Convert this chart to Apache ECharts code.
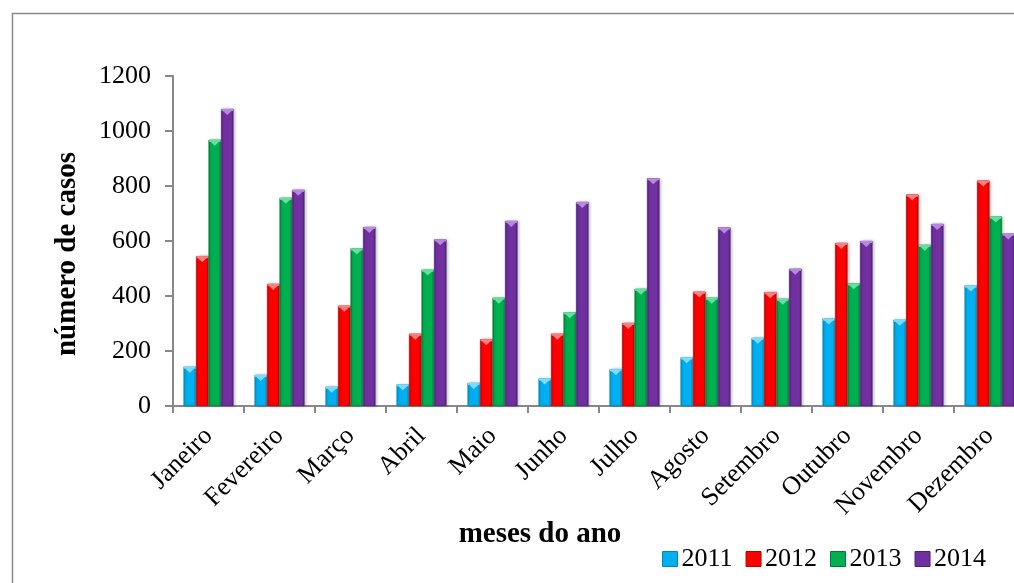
<!DOCTYPE html>
<html>
<head>
<meta charset="utf-8">
<script src="https://cdn.jsdelivr.net/npm/echarts@6/dist/echarts.min.js"></script>
<style>
html,body{margin:0;padding:0;background:#fff;}
#chart{width:1014px;height:583px;}
</style>
</head>
<body>
<div id="chart"></div>
<script>
const months = ['Janeiro','Fevereiro','Março','Abril','Maio','Junho','Julho','Agosto','Setembro','Outubro','Novembro','Dezembro'];
const yTicks = [0, 200, 400, 600, 800, 1000, 1200];
const years = ['2011','2012','2013','2014'];
const v2011 = [143, 113, 70, 79, 84, 100, 134, 177, 248, 318, 314, 438];
const v2012 = [545, 444, 365, 263, 243, 263, 302, 416, 414, 593, 769, 820];
const v2013 = [968, 757, 573, 496, 394, 341, 426, 394, 390, 446, 586, 689];
const v2014 = [1080, 786, 651, 606, 673, 742, 828, 649, 499, 600, 662, 627];
const colors = ['#00B0F0','#FF0000','#00B050','#7030A0'];
const darks = ['#0086B8','#B80000','#007A38','#4E1F73'];
const lights = ['#7FDCFF','#FF8080','#66E0A0','#B888E0'];

const font = '"Liberation Serif", "Times New Roman", serif';
const seriesData = [v2011, v2012, v2013, v2014];
const BAR_W = 12.5;

function grad(i){
  return new echarts.graphic.LinearGradient(0,0,1,0,[
    {offset:0,color:darks[i]},
    {offset:0.18,color:colors[i]},
    {offset:0.82,color:colors[i]},
    {offset:1,color:darks[i]}
  ]);
}

const chart = echarts.init(document.getElementById('chart'), null, {renderer:'canvas'});
const barSeries = years.map((y,i)=>({
  name:y,
  type:'bar',
  data:seriesData[i],
  barWidth:BAR_W,
  barGap:'0%',
  itemStyle:{color:grad(i), borderColor:darks[i], borderWidth:0.6,
    shadowColor:'rgba(0,0,0,0.25)', shadowBlur:3, shadowOffsetX:1.5, shadowOffsetY:0},
  emphasis:{disabled:true}
}));
// bevel caps on top of each bar (decoration), positioned via the axis scale
const capSeries = years.map((y,i)=>({
  name:y,
  type:'custom',
  silent:true,
  z:3,
  data:seriesData[i].map((v,k)=>[k,v]),
  renderItem:function(params, api){
    const p = api.coord([api.value(0), api.value(1)]);
    const groupW = BAR_W*4;
    const left = p[0] - groupW/2 + BAR_W*i;
    const right = left + BAR_W;
    const top = p[1];
    return {
      type:'group',
      children:[
        {type:'rect', shape:{x:left+0.5, y:top, width:BAR_W-1, height:2}, style:{fill:lights[i]}},
        {type:'polygon', shape:{points:[[left+1.5, top+1.5],[right-1.5, top+1.5],[(left+right)/2, top+6]]}, style:{fill:lights[i]}}
      ]
    };
  }
}));

chart.setOption({
  animation:false,
  backgroundColor:'#fff',
  grid:{left:173, top:76, width:852, bottom:177, containLabel:false, outerBoundsMode:'none'},
  legend:{
    data:years.map((y,i)=>({name:y, itemStyle:{color:colors[i], borderColor:darks[i], borderWidth:1}})),
    left:657, top:541, itemWidth:15, itemHeight:15, itemGap:13,
    icon:'rect',
    textStyle:{fontFamily:font, fontSize:26, color:'#000', padding:[0,0,0,-1]}
  },
  xAxis:{
    type:'category', data:months,
    axisLine:{lineStyle:{color:'#888', width:2}},
    axisTick:{show:true, length:7, lineStyle:{color:'#888', width:2}},
    axisLabel:{rotate:45, margin:26, fontFamily:font, fontSize:26, color:'#000', interval:0}
  },
  yAxis:{
    type:'value', min:0, max:1200, interval:200,
    splitLine:{show:false},
    axisLine:{show:true, lineStyle:{color:'#888', width:2}},
    axisTick:{show:true, length:8, lineStyle:{color:'#888', width:2}},
    axisLabel:{margin:22, fontFamily:font, fontSize:26, color:'#000',
      formatter:function(v){ return yTicks.indexOf(v) >= 0 ? String(v) : ''; }}
  },
  graphic:[
    {type:'rect', left:10, top:11, shape:{width:1100, height:700}, style:{fill:'none', stroke:'#898989', lineWidth:1.5}, silent:true, z:-1},
    {type:'text', x:68, y:254, rotation:Math.PI/2, style:{text:'número de casos', font:'bold 29px '+font, fill:'#000', textAlign:'center', textVerticalAlign:'middle'}},
    {type:'text', x:540, y:535, style:{text:'meses do ano', font:'bold 29px '+font, fill:'#000', textAlign:'center', textVerticalAlign:'middle'}}
  ],
  series:barSeries.concat(capSeries)
});
</script>
</body>
</html>
